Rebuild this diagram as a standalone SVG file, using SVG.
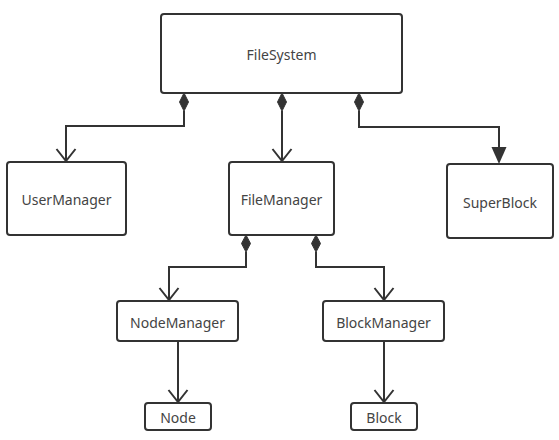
<svg xmlns="http://www.w3.org/2000/svg" width="559" height="440" viewBox="0 0 559 440">
<defs>
<style>
.box{fill:#fff;stroke:#333;stroke-width:2}
.lbl{font-family:"Noto Sans","Open Sans",sans-serif;font-size:14px;fill:#444;text-anchor:middle;dominant-baseline:central}
.ln{fill:none;stroke:#333;stroke-width:2}
.dia{fill:#333;stroke:#333;stroke-width:1}
</style>
<marker id="open" viewBox="0 0 14 22" refX="13" refY="11" markerWidth="14" markerHeight="22" markerUnits="userSpaceOnUse" orient="auto">
<path d="M1,1.5 L13,11 L1,20.5" fill="none" stroke="#333" stroke-width="2"/>
</marker>
</defs>
<rect width="559" height="440" fill="#fff"/>
<g id="connectors">
<path class="ln" d="M184,111 V126 H66 V161" marker-end="url(#open)"/>
<path class="ln" d="M282,111 V161" marker-end="url(#open)"/>
<path class="ln" d="M359,111 V127 H499 V148"/>
<path d="M491.5,147 L506.5,147 L499,164 Z" fill="#333"/>
<path class="ln" d="M246,252 V267 H169 V300" marker-end="url(#open)"/>
<path class="ln" d="M316,252 V267 H384 V300" marker-end="url(#open)"/>
<path class="ln" d="M178,341 V402" marker-end="url(#open)"/>
<path class="ln" d="M384,341 V402" marker-end="url(#open)"/>
<path class="dia" d="M184,93 L188.5,102 L184,111 L179.5,102 Z"/>
<path class="dia" d="M282,93 L286.5,102 L282,111 L277.5,102 Z"/>
<path class="dia" d="M359,93 L363.5,102 L359,111 L354.5,102 Z"/>
<path class="dia" d="M246,235 L250.5,243.5 L246,252 L241.5,243.5 Z"/>
<path class="dia" d="M316,235 L320.5,243.5 L316,252 L311.5,243.5 Z"/>
</g>
<g id="FileSystem"><rect class="box" x="161" y="14" width="241" height="79" rx="3"/><text class="lbl" x="281.5" y="54">FileSystem</text></g>
<g id="UserManager"><rect class="box" x="7" y="162" width="119" height="73" rx="3"/><text class="lbl" x="66.5" y="199">UserManager</text></g>
<g id="FileManager"><rect class="box" x="229" y="162" width="105" height="73" rx="3"/><text class="lbl" x="281.5" y="199">FileManager</text></g>
<g id="SuperBlock"><rect class="box" x="447" y="164" width="106" height="74" rx="3"/><text class="lbl" x="500" y="202">SuperBlock</text></g>
<g id="NodeManager"><rect class="box" x="117" y="301" width="121" height="40" rx="3"/><text class="lbl" x="177.5" y="322">NodeManager</text></g>
<g id="BlockManager"><rect class="box" x="323" y="301" width="121" height="40" rx="3"/><text class="lbl" x="383.5" y="322">BlockManager</text></g>
<g id="Node"><rect class="box" x="145" y="403" width="66" height="27" rx="3"/><text class="lbl" x="178" y="417">Node</text></g>
<g id="Block"><rect class="box" x="351" y="403" width="66" height="27" rx="3"/><text class="lbl" x="384" y="417">Block</text></g>
</svg>
